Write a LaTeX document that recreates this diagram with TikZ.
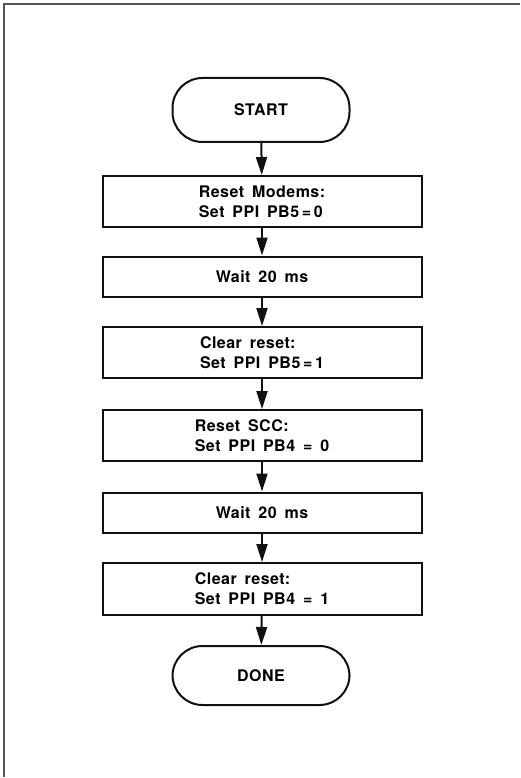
\documentclass[tikz,border=0pt]{standalone}
\usepackage{fontspec}
\setmainfont{TeX Gyre Heros}
\newfontfamily\flowfont[LetterSpace=3,WordSpace=1.6]{TeX Gyre Heros}
\usetikzlibrary{arrows.meta,positioning}
\definecolor{ink}{HTML}{111111}
\definecolor{frame}{HTML}{555555}
\tikzset{
  box/.style={draw=ink, line width=2pt, minimum width=319pt, align=left,
              font=\flowfont\fontsize{16}{20}\selectfont\bfseries, inner sep=4pt},
  term/.style={box, rounded corners=30pt, minimum width=177pt, align=center},
  ar/.style={-{Triangle[length=18pt,width=11pt]}, line width=2pt, draw=ink}
}
\begin{document}
\begin{tikzpicture}[x=1pt,y=-1pt]
  \useasboundingbox (0,0) rectangle (520,778);
  \draw[frame, line width=1.3pt] (520,4) -- (4,4) -- (4,777);

  \node[term, minimum height=64pt] (start) at (261,110) {START};
  \node[box, minimum height=51pt] (b1) at (262,201.5) {Reset Modems:\\Set PPI PB5\,=\,0};
  \node[box, minimum height=40pt] (b2) at (262,276.5) {Wait 20 ms};
  \node[box, minimum height=51pt] (b3) at (262,352.5) {Clear reset:\\Set PPI PB5\,=\,1};
  \node[box, minimum height=51pt] (b4) at (262,435.5) {Reset SCC:\\Set PPI PB4 = 0};
  \node[box, minimum height=40pt] (b5) at (262,512.5) {Wait 20 ms};
  \node[box, minimum height=52pt] (b6) at (262,589) {Clear reset:\\Set PPI PB4 = 1};
  \node[term, minimum height=59pt] (done) at (261,675.5) {DONE};

  \draw[ar] (start) -- (b1);
  \draw[ar] (b1) -- (b2);
  \draw[ar] (b2) -- (b3);
  \draw[ar] (b3) -- (b4);
  \draw[ar] (b4) -- (b5);
  \draw[ar] (b5) -- (b6);
  \draw[ar] (b6) -- (done);
\end{tikzpicture}
\end{document}
